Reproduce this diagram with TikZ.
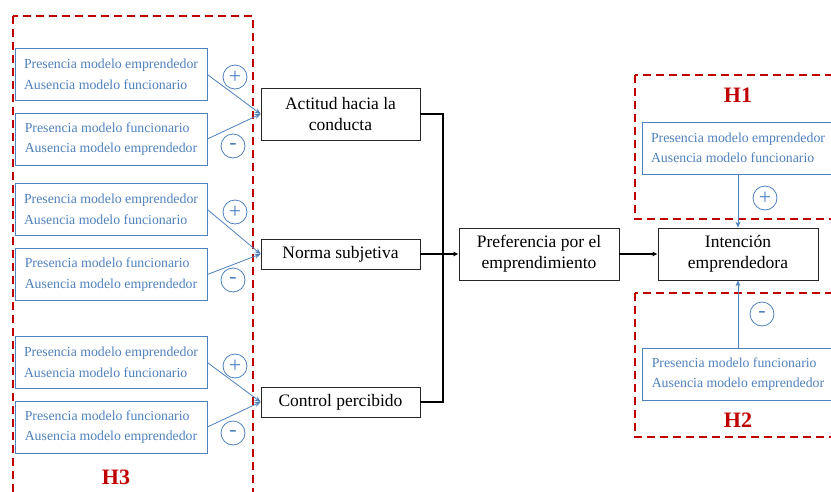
\documentclass[tikz,border=0pt]{standalone}
\usepackage{fontspec}
\setmainfont{Liberation Serif}
\usetikzlibrary{arrows.meta}

\definecolor{modelblue}{RGB}{79,129,189}
\definecolor{hypred}{RGB}{192,0,0}

\begin{document}
\begin{tikzpicture}[x=1pt, y=-1pt,
    modelbox/.style={draw=modelblue, text=modelblue, line width=0.8pt, align=left,
        minimum width=192pt, minimum height=52pt, inner xsep=0pt,
        font=\fontsize{13.8}{20.5}\selectfont},
    varbox/.style={draw=black!85, line width=0.8pt, align=center,
        minimum width=159pt, font=\fontsize{17.5}{21}\selectfont},
    sign/.style={circle, draw=modelblue, text=modelblue, line width=0.8pt,
        minimum size=24pt, inner sep=0pt, font=\fontsize{22}{22}\selectfont},
    hypbox/.style={draw=hypred, line width=2pt, dash pattern=on 8pt off 5pt},
    hyplabel/.style={text=hypred, font=\fontsize{22}{22}\selectfont\bfseries},
    bluearrow/.style={modelblue, line width=0.8pt, -{Stealth[length=6pt, width=5pt]}},
    blackarrow/.style={line width=1.8pt, -{Latex[length=5pt, width=5pt]}}
]
    \useasboundingbox (0,0) rectangle (831,491);
    \clip (0,0) rectangle (831,491);

    % Dashed frames for the three hypotheses
    \draw[hypbox] (13,16) rectangle (253,500);
    \draw[hypbox] (635,75) rectangle (850,219);
    \draw[hypbox] (635,293) rectangle (850,437);
    \node[hyplabel] (h3) at (116,477) {H3};
    \node[hyplabel] (h1) at (738,95) {H1};
    \node[hyplabel] (h2) at (738,420) {H2};

    % Model boxes on the left
    \node[modelbox] (m1) at (111,74.5) {Presencia modelo emprendedor\\Ausencia modelo funcionario};
    \node[modelbox] (m2) at (111,139) {Presencia modelo funcionario\\Ausencia modelo emprendedor};
    \node[modelbox] (m3) at (111,209.5) {Presencia modelo emprendedor\\Ausencia modelo funcionario};
    \node[modelbox] (m4) at (111,274.5) {Presencia modelo funcionario\\Ausencia modelo emprendedor};
    \node[modelbox] (m5) at (111,362.5) {Presencia modelo emprendedor\\Ausencia modelo funcionario};
    \node[modelbox] (m6) at (111,427) {Presencia modelo funcionario\\Ausencia modelo emprendedor};

    % Model boxes on the right
    \node[modelbox] (m7) at (738,148) {Presencia modelo emprendedor\\Ausencia modelo funcionario};
    \node[modelbox] (m8) at (738,374) {Presencia modelo funcionario\\Ausencia modelo emprendedor};

    % Main variables
    \node[varbox, minimum height=52pt] (actitud) at (340.5,114) {Actitud hacia la\\conducta};
    \node[varbox, minimum height=30pt] (norma) at (340.5,254) {Norma subjetiva};
    \node[varbox, minimum height=30pt] (control) at (340.5,402) {Control percibido};
    \node[varbox, minimum height=52pt, minimum width=160pt] (pref) at (539,254) {Preferencia por el\\emprendimiento};
    \node[varbox, minimum height=52pt, minimum width=160pt] (intencion) at (738,254) {Intención\\emprendedora};

    % Signs
    \node[sign] (s1) at (235,77) {+};
    \node[sign] (s2) at (233,146) {-};
    \node[sign] (s3) at (235,212) {+};
    \node[sign] (s4) at (233,280) {-};
    \node[sign] (s5) at (235,366) {+};
    \node[sign] (s6) at (233,433) {-};
    \node[sign] (s7) at (765,198) {+};
    \node[sign] (s8) at (762,314) {-};

    % Blue connectors
    \draw[bluearrow] (m1.east) -- (actitud.west);
    \draw[bluearrow] (m2.east) -- (actitud.west);
    \draw[bluearrow] (m3.east) -- (norma.west);
    \draw[bluearrow] (m4.east) -- (norma.west);
    \draw[bluearrow] (m5.east) -- (control.west);
    \draw[bluearrow] (m6.east) -- (control.west);
    \draw[bluearrow] (m7.south) -- (intencion.north);
    \draw[bluearrow] (m8.north) -- (intencion.south);

    % Black connectors
    \coordinate (J) at (443,254);
    \draw[line width=1.8pt] (actitud.east) -| (J);
    \draw[line width=1.8pt] (control.east) -| (J);
    \draw[blackarrow] (norma.east) -- (pref.west);
    \draw[blackarrow] (pref.east) -- (intencion.west);

\end{tikzpicture}
\end{document}
